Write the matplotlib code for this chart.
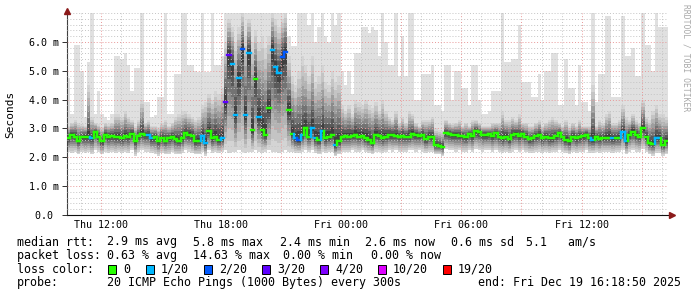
import numpy as np
import matplotlib
matplotlib.use('Agg')
import matplotlib.pyplot as plt
import matplotlib.dates as mdates
from matplotlib.ticker import FuncFormatter, MultipleLocator, FixedLocator
from matplotlib.patches import Rectangle
from matplotlib.collections import LineCollection
import pandas as pd

# ---------------- data ----------------
start_time = '2025-12-18 10:18:50'
step_minutes = 10

med = [2.66, 2.78, 2.72, 2.58, 2.69, 2.72, 2.69, 2.66, 2.86, 2.72,
       2.55, 2.78, 2.72, 2.74, 2.69, 2.69, 2.66, 2.74, 2.72, 2.81,
       2.55, 2.74, 2.81, 2.78, 2.78, 2.66, 2.69, 2.55, 2.66, 2.58,
       2.66, 2.70, 2.63, 2.58, 2.66, 2.83, 2.78, 2.74, 2.55, 2.58,
       2.74, 2.51, 2.90, 2.66, 2.72, 2.60, 2.66, 3.92, 5.55, 5.24,
       3.47, 4.75, 5.76, 3.45, 5.60, 2.95, 4.70, 3.40, 2.95, 2.78,
       3.70, 5.73, 5.14, 4.93, 5.49, 5.66, 3.65, 2.81, 2.66, 2.60,
       2.78, 3.00, 2.72, 3.00, 2.66, 2.60, 2.90, 2.66, 2.70, 2.78,
       2.42, 2.55, 2.72, 2.74, 2.72, 2.74, 2.78, 2.72, 2.74, 2.66,
       2.60, 2.51, 2.78, 2.74, 2.66, 2.72, 2.78, 2.78, 2.75, 2.72,
       2.74, 2.72, 2.72, 2.81, 2.78, 2.74, 2.78, 2.63, 2.72, 2.70,
       2.42, 2.38, 2.35, 2.83, 2.81, 2.78, 2.78, 2.74, 2.74, 2.69,
       2.81, 2.74, 2.90, 2.86, 2.78, 2.78, 2.81, 2.74, 2.83, 2.72,
       2.66, 2.72, 2.63, 2.78, 2.81, 2.74, 2.81, 2.72, 2.63, 2.66,
       2.74, 2.78, 2.66, 2.72, 2.66, 2.66, 2.74, 2.83, 2.70, 2.60,
       2.55, 2.72, 2.66, 2.69, 2.74, 2.78, 2.66, 2.60, 2.69, 2.64,
       2.67, 2.68, 2.68, 2.67, 2.68, 2.68, 2.86, 2.56, 2.78, 2.89,
       2.78, 2.72, 3.01, 2.70, 2.51, 2.46, 2.67, 2.67, 2.43, 2.56]

loss = [0, 0, 0, 0, 0, 0, 0, 1, 0, 0,
        0, 0, 0, 0, 0, 0, 0, 0, 0, 0,
        0, 0, 0, 0, 1, 1, 0, 0, 0, 0,
        0, 0, 0, 0, 0, 0, 0, 0, 0, 0,
        1, 1, 0, 0, 0, 0, 1, 3, 3, 1,
        1, 1, 2, 1, 1, 0, 0, 1, 0, 0,
        0, 1, 1, 1, 2, 2, 0, 0, 1, 2,
        1, 0, 0, 1, 1, 0, 1, 0, 0, 0,
        1, 0, 0, 0, 0, 0, 0, 0, 0, 0,
        0, 0, 0, 0, 0, 0, 0, 0, 0, 0,
        0, 0, 0, 0, 0, 0, 0, 0, 0, 0,
        0, 0, 0, 0, 0, 0, 0, 0, 0, 0,
        0, 0, 0, 0, 0, 0, 0, 0, 0, 0,
        0, 0, 0, 0, 0, 0, 0, 0, 0, 0,
        0, 0, 0, 0, 0, 0, 0, 0, 0, 0,
        0, 0, 0, 0, 0, 0, 0, 1, 0, 0,
        0, 0, 0, 1, 0, 0, 1, 1, 0, 0,
        0, 0, 0, 0, 0, 0, 1, 1, 0, 0]

smoke_min = [2.20, 2.15, 2.20, 2.10, 2.20, 2.15, 2.20, 2.10, 2.25, 2.20,
             2.10, 2.20, 2.15, 2.20, 2.15, 2.20, 2.15, 2.20, 2.15, 2.25,
             2.05, 2.20, 2.25, 2.20, 2.20, 2.15, 2.10, 2.05, 2.15, 2.10,
             2.10, 2.20, 2.10, 2.10, 2.15, 2.25, 2.20, 2.15, 2.10, 2.10,
             2.20, 2.05, 2.25, 2.15, 2.20, 2.15, 2.20, 2.25, 2.15, 2.20,
             2.20, 2.25, 2.20, 2.15, 2.20, 2.20, 2.25, 2.20, 2.15, 2.20,
             2.25, 2.20, 2.20, 2.15, 2.20, 2.25, 2.20, 2.20, 2.15, 2.15,
             2.20, 2.25, 2.20, 2.25, 2.15, 2.10, 2.20, 2.15, 2.20, 2.20,
             2.05, 2.10, 2.20, 2.20, 2.20, 2.25, 2.20, 2.20, 2.25, 2.20,
             2.15, 2.10, 2.20, 2.20, 2.15, 2.20, 2.25, 2.20, 2.25, 2.20,
             2.20, 2.20, 2.25, 2.25, 2.20, 2.25, 2.20, 2.15, 2.20, 2.20,
             2.10, 2.10, 2.05, 2.30, 2.25, 2.25, 2.20, 2.25, 2.20, 2.20,
             2.25, 2.20, 2.30, 2.25, 2.20, 2.25, 2.25, 2.20, 2.25, 2.20,
             2.15, 2.20, 2.15, 2.20, 2.25, 2.20, 2.25, 2.20, 2.15, 2.15,
             2.20, 2.20, 2.15, 2.20, 2.15, 2.20, 2.20, 2.25, 2.20, 2.15,
             2.10, 2.20, 2.15, 2.20, 2.20, 2.25, 2.15, 2.15, 2.20, 2.15,
             2.20, 2.20, 2.20, 2.15, 2.20, 2.20, 2.25, 2.10, 2.20, 2.25,
             2.20, 2.20, 2.30, 2.20, 2.10, 2.05, 2.15, 2.15, 2.05, 2.10]

smoke_upper = [3.10, 3.20, 3.30, 3.20, 3.15, 3.10, 4.50, 3.40, 3.20, 3.15,
               3.05, 3.20, 3.15, 3.20, 3.50, 3.50, 3.40, 3.60, 3.40, 3.30,
               3.10, 3.30, 4.00, 3.20, 3.30, 3.10, 3.10, 3.05, 3.20, 3.30,
               3.10, 3.20, 3.40, 3.50, 3.60, 3.60, 3.50, 3.40, 3.30, 3.40,
               3.80, 3.90, 4.20, 4.00, 4.30, 4.20, 4.40, 6.00, 6.80, 6.50,
               6.00, 6.50, 7.00, 6.20, 6.80, 6.00, 6.40, 6.00, 6.20, 5.80,
               6.20, 7.00, 6.80, 6.50, 6.80, 7.00, 5.50, 4.80, 4.50, 5.00,
               5.50, 5.20, 4.80, 5.50, 4.60, 4.80, 5.20, 4.60, 4.50, 5.00,
               4.60, 4.80, 3.80, 3.60, 3.80, 3.50, 4.00, 3.90, 3.80, 4.00,
               3.80, 3.70, 3.90, 3.60, 4.00, 3.60, 3.40, 3.30, 3.60, 3.20,
               3.40, 3.20, 3.60, 3.50, 3.20, 3.10, 3.30, 3.30, 3.30, 3.40,
               3.00, 2.95, 2.90, 3.30, 3.20, 3.15, 3.20, 3.30, 3.10, 3.20,
               3.10, 3.30, 3.30, 3.20, 3.10, 3.10, 3.10, 3.20, 3.20, 3.20,
               3.60, 3.30, 3.30, 3.40, 3.30, 3.50, 3.20, 3.20, 3.10, 3.10,
               3.20, 3.30, 3.10, 3.20, 3.30, 3.40, 3.30, 3.20, 3.10, 3.30,
               3.10, 3.20, 3.10, 3.30, 3.10, 3.10, 3.10, 4.50, 3.10, 3.30,
               3.20, 3.50, 3.60, 3.20, 3.20, 3.30, 3.80, 3.40, 3.30, 3.50,
               3.30, 3.20, 4.00, 3.40, 3.30, 3.60, 3.80, 3.50, 3.50, 3.40]

smoke_max = [4.75, 3.50, 5.90, 5.90, 5.00, 3.40, 5.30, 7.00, 3.50, 4.30,
             3.50, 3.40, 3.30, 3.50, 5.50, 5.50, 5.40, 5.60, 5.20, 4.30,
             5.10, 5.10, 7.00, 3.90, 3.90, 3.40, 3.45, 4.10, 4.10, 7.00,
             3.50, 3.50, 4.90, 4.90, 7.00, 7.00, 5.20, 5.20, 5.00, 4.95,
             7.00, 4.95, 4.95, 7.00, 5.20, 5.20, 5.50, 7.00, 7.00, 7.00,
             7.00, 7.00, 7.00, 7.00, 7.00, 7.00, 7.00, 7.00, 7.00, 7.00,
             7.00, 7.00, 7.00, 7.00, 7.00, 7.00, 6.20, 5.85, 5.85, 7.00,
             7.00, 7.00, 6.60, 7.00, 6.00, 6.50, 7.00, 6.20, 6.00, 7.00,
             6.60, 7.00, 5.00, 4.50, 5.00, 4.20, 5.60, 5.60, 6.50, 6.50,
             6.30, 6.50, 6.40, 5.50, 7.00, 6.00, 5.20, 5.20, 7.00, 4.80,
             6.20, 4.80, 7.00, 7.00, 4.00, 4.00, 4.90, 4.90, 4.90, 5.20,
             3.80, 3.80, 3.60, 5.20, 5.20, 4.00, 5.00, 5.00, 4.40, 4.40,
             3.80, 5.20, 5.20, 4.00, 3.50, 3.50, 3.60, 4.30, 4.30, 4.30,
             7.00, 5.30, 5.30, 5.40, 5.40, 6.60, 4.60, 4.60, 4.60, 4.10,
             4.10, 4.90, 4.00, 5.00, 5.00, 5.60, 5.60, 3.80, 3.80, 5.40,
             4.40, 4.40, 3.80, 5.20, 3.90, 3.90, 3.60, 7.00, 3.90, 4.90,
             4.90, 6.90, 6.90, 4.10, 4.10, 4.10, 6.90, 5.50, 5.50, 5.80,
             4.80, 4.80, 7.00, 5.90, 5.90, 5.00, 7.00, 6.50, 6.50, 6.50]

loss_levels = [0, 1, 2, 3, 4, 10, 19]
loss_labels = ['0', '1/20', '2/20', '3/20', '4/20', '10/20', '19/20']
loss_colors = ['#26ff00', '#00b8ff', '#0059ff', '#5e00ff', '#7e00ff', '#dd00ff', '#ff0000']

ytick_values = [0, 1, 2, 3, 4, 5, 6]
ytick_labels = ['0.0 ', '1.0 m', '2.0 m', '3.0 m', '4.0 m', '5.0 m', '6.0 m']

legend_rows = [
    [(16.7, 'median rtt:'), (107, '2.9 ms avg'), (193, '5.8 ms max'), (280, '2.4 ms min'),
     (365, '2.6 ms now'), (451, '0.6 ms sd'), (526, '5.1   am/s')],
    [(16.7, 'packet loss:'), (107, '0.63 % avg'), (193, '14.63 % max'), (283, '0.00 % min'),
     (371, '0.00 % now')],
    [(16.7, 'loss color:')],
    [(16.7, 'probe:'), (107, '20 ICMP Echo Pings (1000 Bytes) every 300s'),
     (478, 'end: Fri Dec 19 16:18:50 2025')],
]
legend_box_x = [108, 146, 204, 262, 320, 378, 443]

# ---------------- figure ----------------
W, H = 697, 297
MONO = 'DejaVu Sans Mono'
fig = plt.figure(figsize=(W / 100, H / 100), dpi=100, facecolor='white')
ax = fig.add_axes([67 / W, (H - 215) / H, 601 / W, 202 / H])
ax.set_facecolor('white')

med_a = np.array(med)
lo_a = np.array(smoke_min)
up_a = np.array(smoke_upper)
hi_a = np.array(smoke_max)
n = len(med_a)
times = pd.date_range(start=start_time, periods=n, freq=f'{step_minutes}min')
t = mdates.date2num(times.to_pydatetime())
w = step_minutes / 1440.0
t_end = t[-1] + w

# smoke: outer light band, then graded inner bands toward the median
ax.bar(t, hi_a - lo_a, bottom=lo_a, width=w, align='edge', color='#e0e0e0',
       linewidth=0, zorder=1)
shades = [0.83, 0.77, 0.70, 0.62, 0.54, 0.45, 0.35, 0.25]
K = len(shades)
for k in range(K):
    f = 1 - k / K
    lower = med_a - (med_a - lo_a) * f
    upper = med_a + (up_a - med_a) * f
    g = shades[k]
    ax.bar(t, upper - lower, bottom=lower, width=w, align='edge',
           color=(g, g, g), linewidth=0, zorder=2)


def loss_color(v):
    c = loss_colors[0]
    for lv, col in zip(loss_levels, loss_colors):
        if v >= lv:
            c = col
    return c


segs, cols = [], []
for i in range(n):
    c = loss_color(loss[i])
    segs.append([(t[i], med_a[i]), (t[i] + w, med_a[i])])
    cols.append(c)
    if i > 0 and abs(med_a[i] - med_a[i - 1]) < 0.3:
        segs.append([(t[i], med_a[i - 1]), (t[i], med_a[i])])
        cols.append(c)
lc = LineCollection(segs, colors=cols, linewidths=1.7, capstyle='projecting', zorder=5)
ax.add_collection(lc)

ax.set_xlim(t[0], t_end)
ax.set_ylim(0, 7.0)

# grids
ax.yaxis.set_major_locator(FixedLocator(ytick_values))
ax.yaxis.set_major_formatter(FuncFormatter(lambda v, p: ytick_labels[int(round(v))]
                                           if int(round(v)) < len(ytick_labels) else ''))
ax.yaxis.set_minor_locator(MultipleLocator(0.2))
ax.xaxis.set_major_locator(mdates.HourLocator(byhour=range(0, 24, 3)))
ax.xaxis.set_minor_locator(mdates.HourLocator())


def xfmt(v, p):
    d = mdates.num2date(v)
    return d.strftime('%a %H:%M') if d.hour % 6 == 0 else ''


ax.xaxis.set_major_formatter(FuncFormatter(xfmt))

ax.grid(which='minor', color='#c4c4c4', linestyle=(0, (1, 2)), linewidth=0.7, zorder=3)
ax.grid(which='major', color='#e89898', linestyle=(0, (1, 2)), linewidth=0.7, zorder=3)
ax.set_axisbelow(False)
for gl in ax.get_xgridlines() + ax.get_ygridlines():
    gl.set_zorder(3)

ax.tick_params(axis='y', which='major', length=3.6, width=0.7, color='#303030',
               labelsize=7.2, pad=2.5)
ax.tick_params(axis='y', which='minor', length=0)
ax.tick_params(axis='x', which='both', length=0, labelsize=7.2, pad=3.5)
for lab in ax.get_xticklabels() + ax.get_yticklabels():
    lab.set_family(MONO)

for s in ['top', 'right']:
    ax.spines[s].set_visible(False)
ax.spines['left'].set_color('#404040')
ax.spines['bottom'].set_color('#101010')
ax.spines['left'].set_linewidth(0.8)
ax.spines['bottom'].set_linewidth(0.8)

# arrows
ax.plot([0], [1.012], marker='^', color='#8b1a1a', markersize=4, transform=ax.transAxes,
        clip_on=False, zorder=6)
ax.plot([1.006], [0], marker='>', color='#8b1a1a', markersize=4, transform=ax.transAxes,
        clip_on=False, zorder=6)

# labels
fig.text(10 / W, 1 - 114 / H, 'Seconds', rotation=90, ha='center', va='center',
         fontsize=8, family=MONO)
fig.text(686 / W, 1 - 4 / H, 'RRDTOOL / TOBI OETIKER', rotation=-90, ha='center', va='top',
         fontsize=5.8, family=MONO, color='#a8a8a8')

row_baselines = [245.5, 259.0, 272.8, 286.4]
for row, yb in zip(legend_rows, row_baselines):
    for x, s in row:
        fig.text(x / W, 1 - yb / H, s, ha='left', va='baseline', fontsize=8.4, family=MONO)

box = 8.4
yc = 269.3
for bx, lab, col in zip(legend_box_x, loss_labels, loss_colors):
    fig.add_artist(Rectangle((bx / W, 1 - (yc + box / 2) / H), box / W, box / H,
                             transform=fig.transFigure, facecolor=col, edgecolor='black',
                             linewidth=0.7))
    fig.text((bx + 15) / W, 1 - 272.8 / H, lab, ha='left', va='baseline', fontsize=8.4,
             family=MONO)

fig.savefig('out.png', dpi=100, facecolor='white')
